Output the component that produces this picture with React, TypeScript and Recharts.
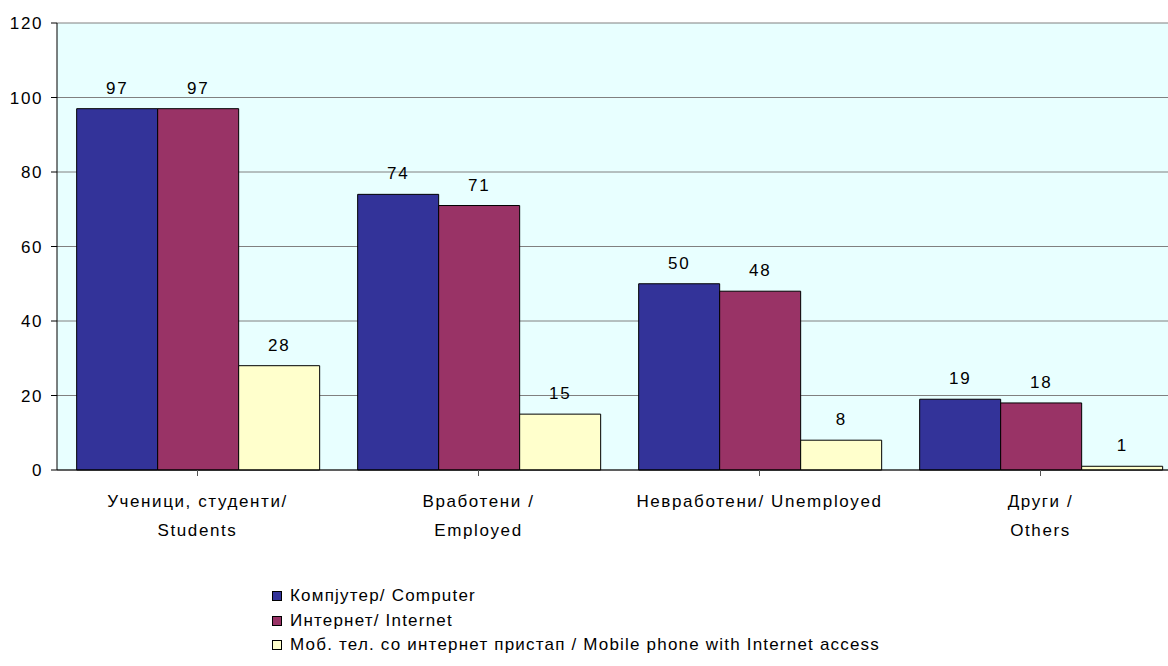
import React from 'react';
import { BarChart, Bar, XAxis, YAxis, CartesianGrid, LabelList } from 'recharts';

const categories = ['Ученици, студенти/|Students', 'Вработени /|Employed', 'Невработени/ Unemployed', 'Други /|Others'];
const computer = [97, 74, 50, 19];
const internet = [97, 71, 48, 18];
const mobile = [28, 15, 8, 1];
const yTicks = [0, 20, 40, 60, 80, 100, 120];

const series = [
  { key: 'computer', name: 'Компјутер/ Computer', color: '#333399' },
  { key: 'internet', name: 'Интернет/ Internet', color: '#993366' },
  { key: 'mobile', name: 'Моб. тел. со интернет пристап / Mobile phone with Internet access', color: '#FFFFCC' },
];

const data = categories.map((c, i) => ({
  category: c,
  computer: computer[i],
  internet: internet[i],
  mobile: mobile[i],
}));

const FONT = '"Liberation Sans", Arial, sans-serif';
const FS = 17;
const LS = 1.6;

const CategoryTick = (props: any) => {
  const { x, y, payload } = props;
  const lines = String(payload.value).split('|');
  return (
    <g transform={`translate(${x},${y})`}>
      {lines.map((l, i) => (
        <text
          key={i}
          x={0}
          y={29 + i * 29}
          textAnchor="middle"
          fill="#000"
          fontSize={FS}
          fontFamily={FONT}
          style={{ letterSpacing: LS }}
        >
          {l}
        </text>
      ))}
    </g>
  );
};

const LegendBox = () => (
  <div style={{ position: 'absolute', left: 272, top: 584, fontFamily: FONT, fontSize: FS, letterSpacing: 1.2, color: '#000' }}>
    {series.map((s) => (
      <div key={s.key} style={{ display: 'flex', alignItems: 'center', height: 24.5 }}>
        <span
          style={{
            display: 'inline-block',
            width: 8,
            height: 8,
            background: s.color,
            border: '1px solid #000',
            marginRight: 8,
          }}
        />
        <span>{s.name}</span>
      </div>
    ))}
  </div>
);

export default function App() {
  return (
    <div style={{ position: 'absolute', left: 0, top: 0, width: 1168, height: 666, overflow: 'hidden', background: '#fff' }}>
      <BarChart
        width={1200}
        height={666}
        data={data}
        margin={{ top: 23, right: 19, left: 0, bottom: 0 }}
        barCategoryGap="7%"
        barGap={0}
      >
        <CartesianGrid vertical={false} stroke="#808080" fill="#E8FFFF" />
        <XAxis
          dataKey="category"
          height={196}
          tick={<CategoryTick />}
          tickLine={{ stroke: '#555' }}
          axisLine={{ stroke: '#000' }}
          tickSize={6}
          interval={0}
        />
        <YAxis
          width={57}
          domain={[0, 120]}
          ticks={yTicks}
          tick={{ fill: '#000', fontSize: FS, fontFamily: FONT, style: { letterSpacing: LS } }}
          tickLine={{ stroke: '#000' }}
          axisLine={{ stroke: '#000' }}
          tickSize={6}
          tickMargin={8}
        />
        {series.map((s) => (
          <Bar key={s.key} dataKey={s.key} name={s.name} fill={s.color} stroke="#000" strokeWidth={1} isAnimationActive={false}>
            <LabelList
              dataKey={s.key}
              position="top"
              offset={15}
              fill="#000"
              fontSize={FS}
              fontFamily={FONT}
              style={{ letterSpacing: LS }}
            />
          </Bar>
        ))}
      </BarChart>
      <LegendBox />
    </div>
  );
}
